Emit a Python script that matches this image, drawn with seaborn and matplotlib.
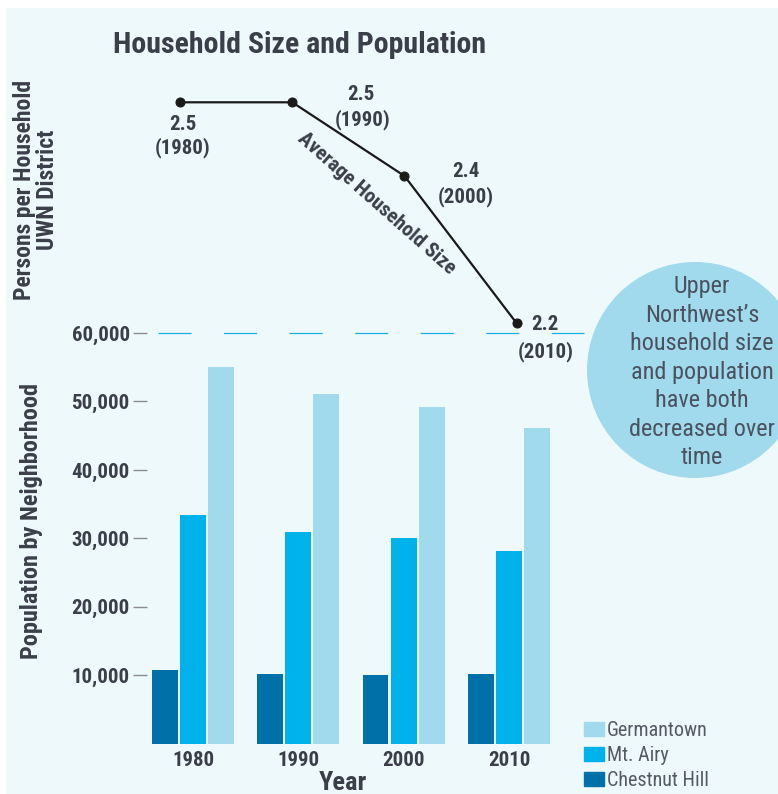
import matplotlib
matplotlib.use("Agg")
import matplotlib.pyplot as plt
import matplotlib.patches as mpatches
from matplotlib import font_manager
import seaborn as sns
import pandas as pd

# ---------------- data ----------------
years = ["1980", "1990", "2000", "2010"]
year_nums = [1980, 1990, 2000, 2010]
neighborhoods = ["Chestnut Hill", "Mt. Airy", "Germantown"]
chestnut_hill = [10780, 10190, 10040, 10190]
mt_airy = [33440, 30950, 30070, 28170]
germantown = [55070, 51130, 49220, 46150]
household_size = [2.5, 2.5, 2.4, 2.2]
size_labels = ["2.5", "2.5", "2.4", "2.2"]
y_ticks = [10000, 20000, 30000, 40000, 50000, 60000]
y_tick_labels = ["10,000", "20,000", "30,000", "40,000", "50,000", "60,000"]
note_lines = ["Upper", "Northwest\u2019s", "household size", "and population",
              "have both", "decreased over", "time"]

# ---------------- style ----------------
W, H = 778, 794
BG = "#EEF9FC"
TXT = "#3a3f4a"
C_CH, C_MA, C_GT = "#0070A8", "#00B2EC", "#A0DAEC"

sns.set_theme(style="white")
names = {f.name for f in font_manager.fontManager.ttflist}
cond = None
for cand in ["Roboto Condensed", "Liberation Sans Narrow", "Open Sans Condensed",
             "DejaVu Sans Condensed", "Noto Sans Condensed"]:
    if cand in names:
        cond = cand
        break
fam = [cond, "DejaVu Sans"] if cond else ["DejaVu Sans"]
plt.rcParams["font.family"] = fam
plt.rcParams["lines.scale_dashes"] = False
stretch = "normal" if cond else "condensed"

fig = plt.figure(figsize=(W / 100, H / 100), dpi=100, facecolor="white")


def fx(x):
    return x / W


def fy(y):
    return 1 - y / H


# background panel
fig.patches.append(mpatches.Rectangle((fx(6), 0), 1 - fx(6), fy(8), transform=fig.transFigure,
                                      facecolor=BG, edgecolor="none", zorder=-10))

# ---------------- bar chart ----------------
x0_px, step_px = 193.0, 105.33
left_px = x0_px - 0.5 * step_px
right_px = x0_px + 3.5 * step_px
base_px, top_px = 743.7, 333.0
ax = fig.add_axes([fx(left_px), fy(base_px), (right_px - left_px) / W, (base_px - top_px) / H])
ax.set_facecolor("none")

df = pd.DataFrame({
    "Year": years * 3,
    "Neighborhood": [n for n in neighborhoods for _ in years],
    "Population": chestnut_hill + mt_airy + germantown,
})
sns.barplot(data=df, x="Year", y="Population", hue="Neighborhood", order=years,
            hue_order=neighborhoods, palette=[C_CH, C_MA, C_GT], width=0.8, gap=0.08,
            saturation=1, edgecolor="none", ax=ax, legend=False)
ax.set_xlim(-0.5, 3.5)
ax.set_ylim(0, 60000)
for s in ax.spines.values():
    s.set_visible(False)
ax.set_yticks(y_ticks)
ax.set_yticklabels(y_tick_labels, fontsize=15, fontweight="bold", color=TXT, fontstretch=stretch)
ax.tick_params(axis="y", direction="inout", length=9.4, width=1.0, color="#8c8c8c", pad=3, left=True)
ax.yaxis.get_major_ticks()[-1].tick1line.set_color("#333333")
ax.tick_params(axis="x", length=0, pad=5)
for lab in ax.get_xticklabels():
    lab.set_fontsize(15)
    lab.set_fontweight("bold")
    lab.set_color(TXT)
    lab.set_fontstretch(stretch)
ax.set_xlabel("")
ax.set_ylabel("")

# dashed 60,000 line
xs = (158 - x0_px) / step_px
xe = (584 - x0_px) / step_px
ax.plot([xs, xe], [60000, 60000], color="#1AADE4", lw=0.9, dashes=(23.8, 23.4),
        clip_on=False, zorder=1)

# legend
handles = [mpatches.Patch(color=c, label=n) for c, n in zip([C_GT, C_MA, C_CH], neighborhoods[::-1])]
fs_leg = 14.5
leg = ax.legend(handles=handles, loc="upper left", bbox_to_anchor=(fx(584), fy(721)),
                bbox_transform=fig.transFigure, frameon=False, borderpad=0, borderaxespad=0,
                handlelength=20 / (fs_leg * 1.389), handleheight=15 / (fs_leg * 1.389),
                handletextpad=0.15, labelspacing=0.3,
                prop={"size": fs_leg, "weight": "normal", "family": fam, "stretch": stretch})
for t in leg.get_texts():
    t.set_color("#555a63")

# ---------------- line chart ----------------
ax2 = fig.add_axes([fx(180), fy(323.3), (516.7 - 180) / W, (323.3 - 102.3) / H])
ax2.set_facecolor("none")
sns.lineplot(x=year_nums, y=household_size, ax=ax2, color="#1a1a1a", lw=1.6, marker="o",
             markersize=6.5, markeredgecolor="#1a1a1a", clip_on=False)
ax2.set_xlim(1980, 2010)
ax2.set_ylim(2.2, 2.5)
ax2.axis("off")

offsets = [((2.5, -28), (2.5, -51)),
           ((69, 2), (70, -23)),
           ((61, -1), (61, -26)),
           ((28.5, -7), (29, -34))]
for yr, v, lab, (o1, o2) in zip(year_nums, household_size, size_labels, offsets):
    ax2.annotate(lab, xy=(yr, v), xytext=o1, textcoords="offset pixels", ha="center",
                 va="baseline", fontsize=15, fontweight="bold", color=TXT,
                 fontstretch=stretch, annotation_clip=False)
    ax2.annotate(f"({yr})", xy=(yr, v), xytext=o2, textcoords="offset pixels", ha="center",
                 va="baseline", fontsize=15, fontweight="bold", color=TXT,
                 fontstretch=stretch, annotation_clip=False)

fig.text(fx(377), fy(203), "Average Household Size", rotation=-41.5, rotation_mode="anchor",
         ha="center", va="center", fontsize=15, fontweight="bold", color=TXT, fontstretch=stretch)

# ---------------- titles / labels ----------------
fig.text(fx(113), fy(53), "Household Size and Population", ha="left", va="baseline",
         fontsize=21.5, fontweight="bold", color=TXT, fontstretch=stretch)
fig.text(fx(25), fy(190), "Persons per Household", rotation=90, ha="center", va="center",
         fontsize=17, fontweight="bold", color=TXT, fontstretch=stretch)
fig.text(fx(47.5), fy(190), "UWN District", rotation=90, ha="center", va="center",
         fontsize=17, fontweight="bold", color=TXT, fontstretch=stretch)
fig.text(fx(32), fy(521), "Population by Neighborhood", rotation=90, ha="center", va="center",
         fontsize=17.5, fontweight="bold", color=TXT, fontstretch=stretch)
fig.text(fx(342.5), fy(790), "Year", ha="center", va="baseline",
         fontsize=19, fontweight="bold", color=TXT, fontstretch=stretch)

# ---------------- note bubble ----------------
fig.patches.append(mpatches.Ellipse((fx(695), fy(370)), 216 / W, 216 / H, transform=fig.transFigure,
                                    facecolor="#A0DAEC", edgecolor="none", zorder=-5))
for i, line in enumerate(note_lines):
    fig.text(fx(702), fy(293 + 28.5 * i), line, ha="center", va="baseline", fontsize=17.5,
             fontweight="normal", color="#4a5260", fontstretch=stretch, zorder=3)

fig.savefig("out.png", dpi=100, facecolor="white")
